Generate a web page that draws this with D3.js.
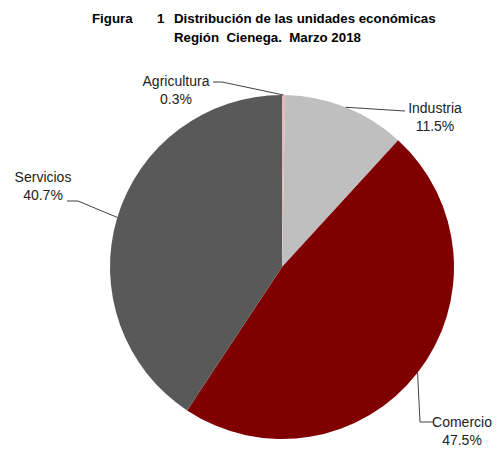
<!DOCTYPE html>
<html>
<head>
<meta charset="utf-8">
<script src="https://cdn.jsdelivr.net/npm/d3@7"></script>
<style>
  body { margin: 0; background: #fff; }
  text { font-family: "Liberation Sans", Arial, sans-serif; white-space: pre; }
</style>
</head>
<body>
<svg id="chart"></svg>
<script>
// data
const categories = ["Agricultura", "Industria", "Comercio", "Servicios"];
const values = [0.3, 11.5, 47.5, 40.7];
const percentLabels = ["0.3%", "11.5%", "47.5%", "40.7%"];
const colors = ["#e6b9b8", "#bfbfbf", "#800000", "#595959"];

// layout for the labels: text anchor point and leader line elbow/end
const labelLayout = [
    { x: 176, y: 86, elbow: [222, 82], end: [213, 82] },
    { x: 435, y: 113, elbow: null, end: [405, 111] },
    { x: 462, y: 427, elbow: [420, 422], end: [433, 422] },
    { x: 43, y: 182, elbow: [78, 201], end: [67, 201] }
];

const width = 496, height = 452;
const cx = 282, cy = 267, radius = 172;

const svg = d3.select("#chart")
    .attr("width", width)
    .attr("height", height);

// title
const title = svg.append("g")
    .attr("font-weight", "bold")
    .attr("font-size", "13.3px")
    .attr("fill", "#000");
title.append("text").attr("x", 92).attr("y", 23).text("Figura");
title.append("text").attr("x", 157).attr("y", 23).text("1");
title.append("text").attr("x", 174).attr("y", 23).text("Distribución de las unidades económicas");
title.append("text").attr("x", 174).attr("y", 42).text("Región  Cienega.  Marzo 2018");

const pie = d3.pie()
    .sort(null)
    .value(d => d);

const arc = d3.arc()
    .innerRadius(0)
    .outerRadius(radius);

const arcs = pie(values);

const chart = svg.append("g")
    .attr("transform", `translate(${cx},${cy})`);

chart.selectAll("path")
    .data(arcs)
    .enter()
    .append("path")
        .attr("d", arc)
        .attr("fill", (d, i) => colors[i]);

// leader lines, starting on the outer edge at the slice's mid angle
arcs.forEach((d, i) => {
    let mid = (d.startAngle + d.endAngle) / 2;
    let start = [cx + radius * Math.sin(mid), cy - radius * Math.cos(mid)];
    let lay = labelLayout[i];
    let pts = [start];
    if (lay.elbow) pts.push(lay.elbow);
    pts.push(lay.end);

    svg.append("path")
        .attr("d", d3.line()(pts))
        .attr("fill", "none")
        .attr("stroke", "#404040")
        .attr("stroke-width", 1);

    let t = svg.append("text")
        .attr("text-anchor", "middle")
        .attr("font-size", "14px")
        .attr("fill", "#222");
    t.append("tspan").attr("x", lay.x).attr("y", lay.y).text(categories[i]);
    t.append("tspan").attr("x", lay.x).attr("y", lay.y + 18).text(percentLabels[i]);
});
</script>
</body>
</html>
